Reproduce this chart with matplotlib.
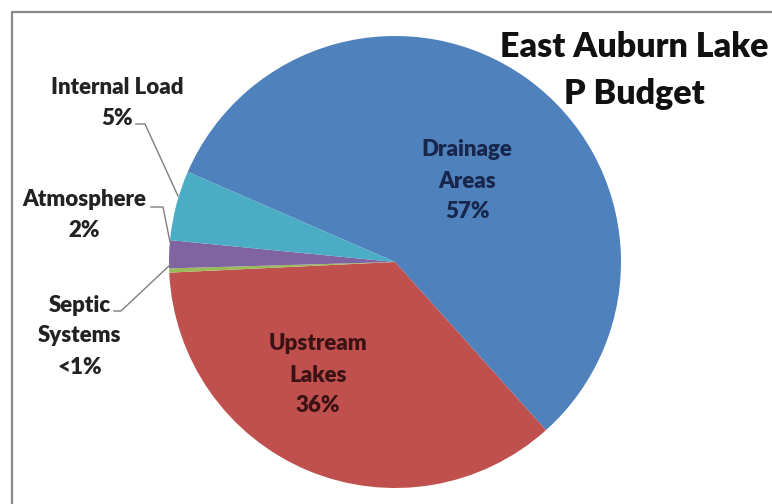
import matplotlib
matplotlib.use("Agg")
import matplotlib.pyplot as plt
from matplotlib import font_manager

# Phosphorus budget sources and their shares (%)
sources = ["Drainage Areas", "Upstream Lakes", "Septic Systems", "Atmosphere", "Internal Load"]
shares = [57, 36, 0.3, 2, 5]
share_text = ["57%", "36%", "<1%", "2%", "5%"]
colors = ["#4F81BD", "#C0504D", "#9BBB59", "#8064A2", "#4BACC6"]
title = "East Auburn Lake\nP Budget"

W, H = 772, 504


def pick_family(candidates):
    names = {f.name for f in font_manager.fontManager.ttflist}
    for c in candidates:
        if c in names:
            return c
    return "DejaVu Sans"


FAMILY = pick_family(["Lato", "Open Sans", "DejaVu Sans"])
WEIGHT = "heavy"

fig = plt.figure(figsize=(W / 100, H / 100), dpi=100)
ax = fig.add_axes([0, 0, 1, 1])


def Y(y):
    # pixel row (from top) -> axes y
    return H - y


ax.pie(shares, colors=colors, startangle=156.5, counterclock=False,
       center=(395, Y(262)), radius=226,
       wedgeprops=dict(linewidth=0))
ax.set_xlim(0, W)
ax.set_ylim(0, H)
ax.set_aspect("equal")
ax.axis("off")

# chart-area frame (top and left edges)
ax.plot([12, 12, W + 5], [Y(H + 5), Y(12), Y(12)], color="#8a8a8a", lw=1.6,
        solid_capstyle="butt", clip_on=False)


def label(lines, cx, cy, color, size=16, spacing=31):
    n = len(lines)
    for i, s in enumerate(lines):
        y = cy + (i - (n - 1) / 2) * spacing
        ax.text(cx, Y(y), s, ha="center", va="center", fontsize=size,
                fontweight=WEIGHT, color=color, family=FAMILY)


# labels inside the pie
label(["Drainage", "Areas", share_text[0]], 467, 181, "#17264a")
label(["Upstream", "Lakes", share_text[1]], 318, 375, "#3b1214")

# labels outside with leader lines
label(["Internal Load", share_text[4]], 117, 103, "#222222")
label(["Atmosphere", share_text[3]], 84, 215, "#222222")
label(["Septic", "Systems", share_text[2]], 80, 336, "#222222")

leaders = [
    [(136, 124), (145, 124), (178, 196)],
    [(151, 207), (163, 207), (170, 242)],
    [(114, 311), (121, 311), (171, 264)],
]
for pts in leaders:
    xs = [p[0] for p in pts]
    ys = [Y(p[1]) for p in pts]
    ax.plot(xs, ys, color="#7f7f7f", lw=1.0)

# title
ax.text(634, Y(47), "East Auburn Lake", ha="center", va="center", fontsize=24.5,
        fontweight=WEIGHT, color="#111111", family=FAMILY)
ax.text(634, Y(94), "P Budget", ha="center", va="center", fontsize=24.5,
        fontweight=WEIGHT, color="#111111", family=FAMILY)

fig.savefig("out.png", dpi=100, facecolor="white")
